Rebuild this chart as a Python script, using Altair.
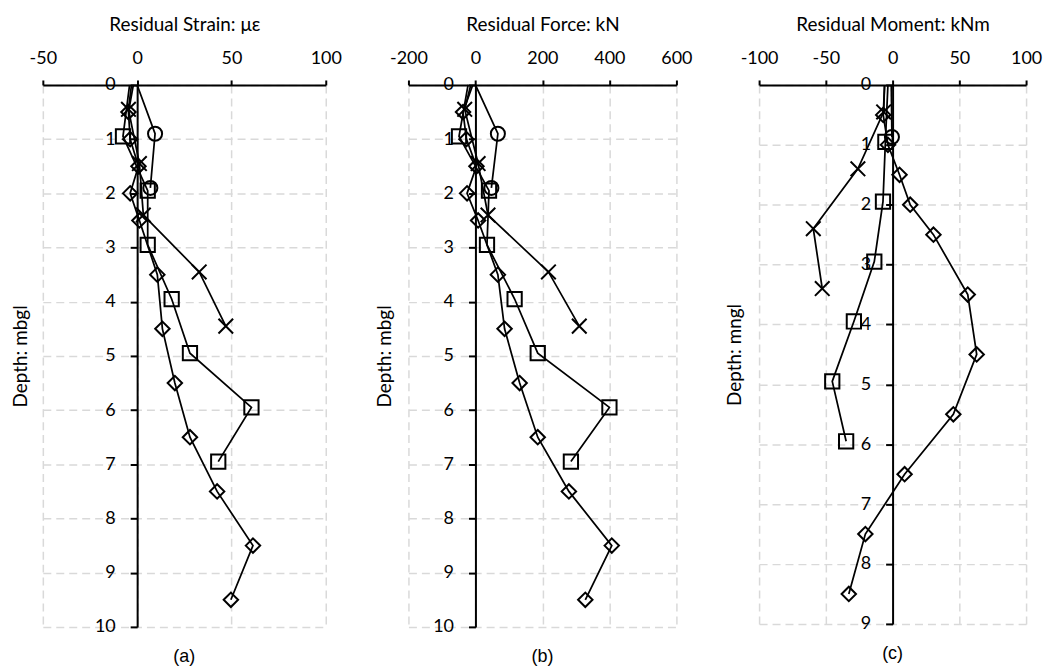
import altair as alt
import pandas as pd

# ---------------- Panel (a): residual strain (microstrain) ----------------
strain_circle_depth = [0, 0.9, 1.9]
strain_circle_val = [0, 9.5, 7.0]
strain_square_depth = [0, 0.95, 1.95, 2.95, 3.95, 4.95, 5.95, 6.95]
strain_square_val = [-4, -7.5, 5.6, 5.6, 18.3, 28.0, 60.6, 43.0]
strain_diamond_depth = [0, 0.5, 1.0, 1.5, 2.0, 2.5, 3.5, 4.5, 5.5, 6.5, 7.5, 8.5, 9.5]
strain_diamond_val = [-2, -4.6, -3.7, 0.7, -3.7, 1.2, 10.7, 13.4, 20.0, 28.0, 42.4, 61.4, 49.7]
strain_cross_depth = [0, 0.45, 1.45, 2.4, 3.45, 4.45]
strain_cross_val = [-3, -4.6, 1.2, 3.3, 32.9, 47.0]

# ---------------- Panel (b): residual force (kN) ----------------
force_circle_depth = [0, 0.9, 1.9]
force_circle_val = [0, 67, 47.6]
force_square_depth = [0, 0.95, 1.95, 2.95, 3.95, 4.95, 5.95, 6.95]
force_square_val = [-22, -49, 40.5, 34.5, 117, 186, 400, 285]
force_diamond_depth = [0, 0.5, 1.0, 1.5, 2.0, 2.5, 3.5, 4.5, 5.5, 6.5, 7.5, 8.5, 9.5]
force_diamond_val = [-8, -37, -27, 3, -25, 8, 67, 87, 132, 186, 279, 407, 328]
force_cross_depth = [0, 0.45, 1.45, 2.4, 3.45, 4.45]
force_cross_val = [-14, -32, 8, 37.5, 218, 310]

# ---------------- Panel (c): residual moment (kNm) ----------------
moment_circle_depth = [0, 0.87]
moment_circle_val = [-1, -0.5]
moment_square_depth = [0, 0.95, 1.95, 2.95, 3.95, 4.95, 5.95]
moment_square_val = [-3.5, -5.4, -7.2, -13.7, -29.0, -45.2, -34.8]
moment_diamond_depth = [0, 0.5, 1.0, 1.5, 2.0, 2.5, 3.5, 4.5, 5.5, 6.5, 7.5, 8.5]
moment_diamond_val = [-6, -7, -3.5, 5.2, 13.2, 30.6, 56.3, 63.0, 45.5, 9.0, -20.4, -32.8]
moment_cross_depth = [0, 0.45, 1.4, 2.4, 3.4]
moment_cross_val = [-6, -6.7, -26.0, -59.4, -52.7]

series_names = ["circle", "square", "diamond", "cross"]
shape_range = ["circle", "square", "diamond", "M-1,-1L1,1M1,-1L-1,1"]
size_range = [200, 215, 175, 260]


def frame(parts):
    rows = []
    for name, depths, vals in parts:
        for d, v in zip(depths, vals):
            rows.append({"series": name, "depth": d, "value": v})
    return pd.DataFrame(rows)


df_a = frame([
    ("circle", strain_circle_depth, strain_circle_val),
    ("square", strain_square_depth, strain_square_val),
    ("diamond", strain_diamond_depth, strain_diamond_val),
    ("cross", strain_cross_depth, strain_cross_val),
])
df_b = frame([
    ("circle", force_circle_depth, force_circle_val),
    ("square", force_square_depth, force_square_val),
    ("diamond", force_diamond_depth, force_diamond_val),
    ("cross", force_cross_depth, force_cross_val),
])
df_c = frame([
    ("circle", moment_circle_depth, moment_circle_val),
    ("square", moment_square_depth, moment_square_val),
    ("diamond", moment_diamond_depth, moment_diamond_val),
    ("cross", moment_cross_depth, moment_cross_val),
])

FONT = "Lato"
GRID = "#d9d9d9"
HYPHEN_LABEL = "datum.value < 0 ? '-' + abs(datum.value) : '' + datum.value"


def panel(df, xdom, xvals, ydom, yvals, w, h, xtitle, ytitle, title_x, caption):
    zero_px = (0 - xdom[0]) / (xdom[1] - xdom[0]) * w
    x = alt.X(
        "value:Q",
        scale=alt.Scale(domain=xdom, nice=False, zero=False),
        axis=alt.Axis(
            orient="top", values=xvals, title=xtitle, labelExpr=HYPHEN_LABEL,
            titleFont=FONT, titleFontSize=19, titleFontWeight="normal",
            titleColor="black", titlePadding=15,
            labelFont=FONT, labelFontSize=18, labelColor="black",
            labelPadding=13, labelFlush=False,
            domainColor="black", domainWidth=2,
            tickColor="black", tickWidth=2, tickSize=5,
            grid=True, gridColor=GRID, gridDash=[8, 5], gridWidth=1.5,
        ),
    )
    y = alt.Y(
        "depth:Q",
        scale=alt.Scale(domain=ydom, reverse=True, nice=False, zero=False),
        axis=alt.Axis(
            orient="left", offset=-zero_px, values=yvals, title=ytitle,
            titleFont=FONT, titleFontSize=19, titleFontWeight="normal",
            titleColor="black", titleX=title_x, titleY=h / 2,
            titleAngle=270, titleAlign="center", titleBaseline="middle",
            labelFont=FONT, labelFontSize=18, labelColor="black",
            labelPadding=15,
            domainColor="black", domainWidth=2,
            tickColor="black", tickWidth=2, tickSize=7,
            grid=True, gridColor=GRID, gridDash=[8, 5], gridWidth=1.5,
        ),
    )
    base = alt.Chart(df)
    lines = base.mark_line(color="black", strokeWidth=1.75).encode(
        x=x, y=y, detail="series:N", order="depth:Q"
    )
    pts = base.transform_filter("datum.depth > 0").mark_point(
        filled=False, color="black", strokeWidth=2, opacity=1
    ).encode(
        x=x, y=y,
        shape=alt.Shape("series:N", scale=alt.Scale(domain=series_names, range=shape_range), legend=None),
        size=alt.Size("series:N", scale=alt.Scale(domain=series_names, range=size_range), legend=None),
    )
    return alt.layer(lines, pts).properties(
        width=w, height=h,
        title=alt.TitleParams(caption, orient="bottom", font="Liberation Sans",
                              fontSize=18, fontWeight="normal", color="black", offset=12),
    )


pa = panel(df_a, [-50, 100], [-50, 0, 50, 100], [0, 10], list(range(0, 11)),
           284, 544, "Residual Strain: με", "Depth: mbgl", -117, "(a)")
pb = panel(df_b, [-200, 600], [-200, 0, 200, 400, 600], [0, 10], list(range(0, 11)),
           269, 544, "Residual Force: kN", "Depth: mbgl", -91, "(b)")
pc = panel(df_c, [-100, 100], [-100, -50, 0, 50, 100], [0, 9], list(range(0, 10)),
           268, 541, "Residual Moment: kNm", "Depth: mngl", -159, "(c)")

chart = alt.hconcat(pa, pb, pc, spacing=83, bounds="flush").properties(
    padding={"left": 11, "top": 14, "right": 5, "bottom": 5},
    background="white",
).configure_view(stroke=None)

chart.save("out.html", embed_options={"renderer": "svg", "actions": False})
